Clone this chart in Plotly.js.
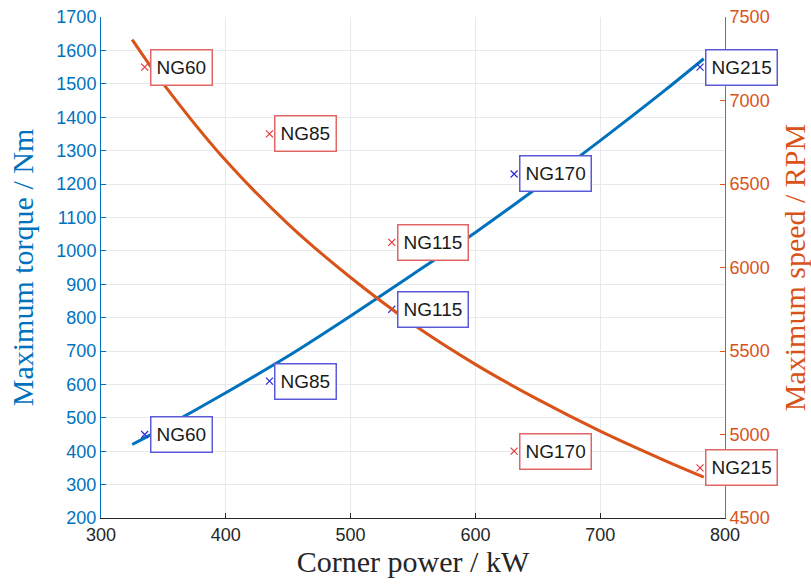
<!DOCTYPE html>
<html>
<head>
<meta charset="utf-8">
<script src="https://cdn.plot.ly/plotly-3.0.1.min.js"></script>
<style>
  html, body { margin: 0; padding: 0; background: #ffffff; }
  #chart { width: 811px; height: 585px; }
</style>
</head>
<body>
<div id="chart"></div>
<script>
// Envelope curves: corner power vs. maximum torque and maximum speed
const curvePower  = [325, 350, 400, 450, 500, 550, 600, 650, 700, 750, 783];
const curveTorque = [420, 470, 575, 685, 805, 930, 1055, 1190, 1330, 1475, 1575];
const curveSpeed  = [7365, 7100, 6640, 6260, 5940, 5660, 5420, 5210, 5020, 4850, 4745];

// Individual machines
const machineNames  = ['NG60', 'NG85', 'NG115', 'NG170', 'NG215'];
const machinePower  = [335, 435, 533, 631, 780];
const machineTorque = [450, 610, 825, 1230, 1550];
const machineSpeed  = [7200, 6800, 6150, 4900, 4800];

const torqueBlue = '#0072BD';
const speedOrange = '#D95319';
const tickFont = 'Liberation Sans, Arial, Helvetica, sans-serif';
const titleFont = 'Liberation Serif, Times New Roman, serif';

const traces = [
  {
    x: curvePower, y: curveTorque, yaxis: 'y', type: 'scatter', mode: 'lines',
    line: { color: torqueBlue, width: 3, shape: 'spline' }, hoverinfo: 'skip'
  },
  {
    x: machinePower, y: machineTorque, yaxis: 'y', type: 'scatter', mode: 'markers',
    marker: { symbol: 'x-thin', size: 7, line: { color: '#2a2ad0', width: 1.2 } }
  },
  {
    x: curvePower, y: curveSpeed, yaxis: 'y2', type: 'scatter', mode: 'lines',
    line: { color: speedOrange, width: 3, shape: 'spline' }, hoverinfo: 'skip'
  },
  {
    x: machinePower, y: machineSpeed, yaxis: 'y2', type: 'scatter', mode: 'markers',
    marker: { symbol: 'x-thin', size: 7, line: { color: '#e03a3a', width: 1.2 } }
  }
];

function tags(values, yref, border) {
  return machineNames.map((name, i) => ({
    x: machinePower[i], y: values[i], xref: 'x', yref: yref,
    text: name, showarrow: false, xanchor: 'left', yanchor: 'middle', xshift: 5,
    height: 24, valign: 'middle',
    font: { family: tickFont, size: 19, color: '#1a1a1a' },
    bgcolor: '#ffffff', bordercolor: border, borderwidth: 1.5, borderpad: 5
  }));
}

const layout = {
  width: 811, height: 585,
  margin: { l: 101, r: 86, t: 17, b: 67 },
  paper_bgcolor: '#ffffff', plot_bgcolor: '#ffffff',
  showlegend: false,
  xaxis: {
    range: [300, 800], dtick: 100, tick0: 300,
    showgrid: true, gridcolor: '#e8e9ec', zeroline: false,
    showline: true, linecolor: '#262626', linewidth: 1,
    ticks: 'inside', ticklen: 5, tickcolor: '#262626',
    tickfont: { family: tickFont, size: 18, color: '#262626' },
    title: { text: 'Corner power / kW', font: { family: titleFont, size: 30, color: '#262626' }, standoff: 7 }
  },
  yaxis: {
    range: [200, 1700], dtick: 100, tick0: 200,
    showgrid: true, gridcolor: '#e8e9ec', zeroline: false,
    showline: true, linecolor: torqueBlue, linewidth: 1,
    ticks: 'inside', ticklen: 5, tickcolor: torqueBlue,
    tickfont: { family: tickFont, size: 18, color: torqueBlue },
    title: { text: 'Maximum torque / Nm', font: { family: titleFont, size: 30, color: torqueBlue }, standoff: 13 }
  },
  yaxis2: {
    range: [4500, 7500], dtick: 500, tick0: 4500,
    overlaying: 'y', side: 'right',
    showgrid: false, zeroline: false,
    showline: true, linecolor: speedOrange, linewidth: 1,
    ticks: 'inside', ticklen: 5, tickcolor: speedOrange,
    tickfont: { family: tickFont, size: 18, color: speedOrange },
    title: { text: 'Maximum speed / RPM', font: { family: titleFont, size: 30, color: speedOrange }, standoff: 15 }
  },
  annotations: tags(machineTorque, 'y', '#5a5ad8').concat(tags(machineSpeed, 'y2', '#e06666'))
};

Plotly.newPlot('chart', traces, layout, { displayModeBar: false, staticPlot: true });
</script>
</body>
</html>
